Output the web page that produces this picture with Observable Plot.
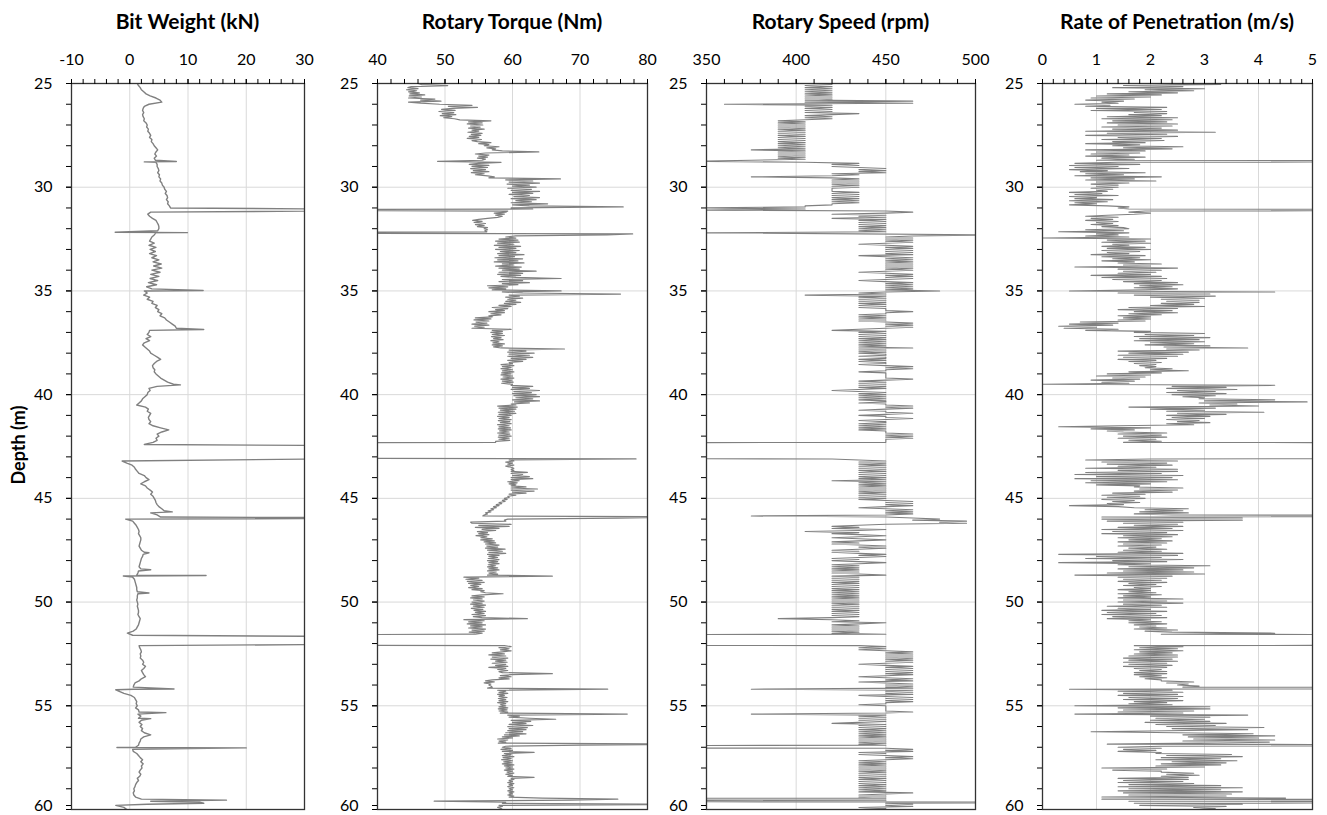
<!DOCTYPE html>
<html>
<head>
<meta charset="utf-8">
<script src="https://cdn.jsdelivr.net/npm/d3@7"></script>
<script src="https://cdn.jsdelivr.net/npm/@observablehq/plot@0.6"></script>
<style>
  body { margin: 0; background: #fff; }
  #chart { position: relative; width: 1327px; height: 815px; font-family: Lato, sans-serif; color: #000; }
  .title { position: absolute; top: 8px; font-weight: 700; font-size: 21px; white-space: nowrap; transform: translateX(-50%); }
  .panel { position: absolute; top: 40px; }
  #ylab { position: absolute; left: 18px; top: 445px; transform: translate(-50%, -50%) rotate(-90deg); font-weight: 700; font-size: 18px; white-space: nowrap; }
</style>
</head>
<body>
<div id="chart"><div id="ylab">Depth (m)</div></div>
<script>
// Drilling log from 25 m to 60 m. Bit weight is sampled every 0.1 m (351 samples);
// torque, rotary speed and penetration rate every 0.05 m (701 samples, one row per metre).
const DEPTH_TOP = 25;
const DEPTH_BOTTOM = 60;

// Bit weight, kN (values beyond 30 run off the right of the axis)
const bitWeight = [
  1.3,1.5,1.8,2.0,2.4,2.8,3.5,4.5,5.2,5.5,
  3.3,2.5,2.3,2.2,2.4,2.2,2.3,2.5,2.4,2.8,
  3.0,2.9,3.2,3.1,3.4,3.6,3.4,3.8,3.7,4.0,
  4.2,4.5,4.8,4.5,4.3,4.6,4.2,4.4,4.5,4.7,
  4.7,4.9,5.0,4.8,5.1,5.0,5.3,5.2,5.5,5.6,
  5.9,6.0,6.3,6.1,6.4,6.5,6.3,6.6,6.5,6.8,
  7.0,60,3.6,3.1,3.4,3.9,4.5,4.7,4.9,5.0,
  5.0,4.8,4.5,4.2,3.8,3.6,3.4,4.2,3.3,4.5,
  3.5,4.4,3.4,4.6,3.8,5.0,4.0,5.4,4.1,5.5,
  3.8,5.2,3.6,5.0,3.5,4.8,3.2,4.6,2.9,3.8,
  2.5,3.0,2.4,3.4,3.0,4.0,3.8,4.7,4.4,5.0,
  4.8,5.5,5.2,6.0,6.3,6.8,7.3,7.8,8.0,3.4,
  3.3,3.0,3.6,2.8,3.4,2.5,2.2,2.6,3.0,3.4,
  3.6,4.2,4.8,5.3,4.6,4.2,3.9,4.0,4.3,4.2,
  4.5,4.9,5.3,5.9,6.5,7.5,4.7,3.3,3.5,3.1,
  3.0,2.6,2.2,2.0,1.6,1.2,2.7,3.2,3.0,3.6,
  3.4,3.2,3.3,3.6,3.3,4.0,5.3,6.7,5.5,4.7,
  5.0,4.5,4.7,4.0,2.5,60,60,60,60,60,
  60,32,-1.3,-0.5,0.4,0.8,1.0,1.3,1.6,2.5,
  2.8,3.3,2.5,1.9,2.7,3.0,3.5,3.9,3.6,4.0,
  4.2,4.4,4.5,4.7,5.0,5.5,5.9,3.6,4.7,5.3,
  -0.7,0.5,0.8,1.1,1.3,1.5,1.6,1.5,1.7,1.9,
  1.9,1.8,1.7,1.6,1.8,2.0,2.5,2.3,2.2,2.0,
  1.9,1.8,1.7,1.6,1.9,1.5,1.4,1.2,0.5,0.8,
  0.9,1.0,1.1,1.2,1.2,1.3,1.4,1.3,1.3,1.2,
  1.3,1.4,1.3,1.4,1.5,1.5,1.4,1.6,1.8,1.7,
  1.6,1.5,1.3,1.1,0.6,-0.4,0.5,60,60,60,
  60,1.6,1.7,1.9,2.0,1.8,1.9,1.8,2.2,2.4,
  2.2,2.7,2.4,2.0,2.2,2.4,2.7,2.0,1.6,0.9,
  0.7,0.6,0.7,-1.8,-1.0,0.2,0.8,1.0,1.2,1.1,
  1.3,1.0,1.5,1.6,1.4,1.9,1.5,2.0,1.6,2.1,
  1.8,2.2,2.0,2.5,3.6,2.4,1.9,1.8,1.6,1.5,
  1.0,0.5,0.6,1.2,1.5,1.8,2.2,1.9,2.3,2.0,
  2.1,1.8,1.6,1.9,1.7,1.3,1.5,1.2,1.0,0.9,
  0.7,0.8,0.6,0.7,1.0,2.0,3.6,12.7,-2.4,-1.0,
  -0.5
];
// Short excursions between samples: [depth m, kN]
const bitWeightSpikes = [
  [28.76, 8.0], [28.78, 2.5], [32.17, -2.5], [32.19, 9.9], [34.98, 12.6],
  [36.86, 12.7], [39.53, 8.7], [45.65, 7.3], [45.95, 60], [47.62, 3.3],
  [48.44, 3.6], [48.72, 13.1], [48.74, -1.1], [49.56, 3.3], [54.19, 7.6],
  [54.23, -2.4], [55.33, 6.2], [55.62, 3.6], [57.01, -2.2], [57.03, 20.0],
  [59.55, 16.6], [59.65, 12.0], [59.75, 3.0]
];

// Rotary torque, Nm (0 / 90 mark drop-outs beyond the axis)
const rotaryTorque = [
  46.0,46.5,50.4,45.0,44.5,46.0,44.3,45.8,44.6,46.2,44.8,47.0,44.7,46.5,44.6,48.5,46.4,49.4,44.6,46.4,
  49.2,54.0,50.5,54.8,51.1,49.5,51.5,49.1,51.3,49.6,51.6,49.3,51.0,49.8,51.4,52.2,56.8,53.5,55.5,53.3,
  55.6,53.8,55.2,53.5,55.8,54.0,55.0,53.4,55.5,53.9,55.3,53.6,55.0,53.3,55.4,54.0,54.8,56.8,55.0,56.5,
  55.8,58.0,56.2,57.5,57.0,58.5,63.9,56.0,54.5,56.5,55.0,56.3,54.8,56.0,55.5,48.9,58.3,55.0,53.6,56.5,
  54.0,56.3,53.8,56.0,54.2,56.5,53.9,55.8,54.5,56.3,57.3,56.5,67.1,59.0,63.0,59.5,64.0,59.2,62.5,60.0,
  63.5,59.3,62.8,59.8,64.0,60.0,63.0,59.5,62.5,60.2,64.0,59.8,63.5,60.5,62.8,59.8,65.2,60.0,62.5,76.4,
  59.8,63.0,0,59.3,59.0,57.3,58.8,57.5,58.5,57.8,56.3,55.0,54.1,55.5,54.3,56.0,54.5,55.8,54.8,56.3,
  55.8,56.3,55.9,56.2,0,77.8,74.0,60.5,59.0,60.5,58.0,60.8,57.5,61.0,57.8,60.2,57.3,61.2,58.0,60.5,
  57.5,61.0,58.2,60.5,57.8,61.7,58.0,60.3,57.4,61.5,57.8,60.8,57.3,61.7,58.5,60.2,57.5,61.3,58.0,61.0,
  58.5,63.5,58.0,61.5,57.8,61.2,58.3,60.5,67.2,58.5,61.5,58.0,62.5,58.5,60.8,56.3,59.3,56.5,59.0,57.0,
  67.2,58.5,61.5,76.0,59.5,61.0,59.0,61.5,59.3,60.5,59.0,61.2,58.8,60.5,58.0,59.8,57.0,59.3,57.5,58.8,
  56.5,58.8,56.8,58.3,56.5,57.0,54.5,56.8,54.3,56.5,54.6,56.2,54.0,56.5,54.4,55.8,54.0,59.8,57.0,58.5,
  56.8,58.5,57.0,58.8,56.9,58.3,57.2,58.6,56.8,58.0,57.1,58.8,57.0,58.5,57.2,58.3,67.7,59.5,62.0,59.3,
  63.2,59.5,62.5,59.3,63.0,59.8,62.0,59.3,61.5,59.5,60.0,58.3,60.2,58.5,59.8,58.3,60.0,58.5,60.2,58.4,
  59.8,58.3,60.0,58.6,60.2,58.3,59.9,58.5,60.1,58.4,60.0,59.8,63.0,60.0,62.5,59.8,64.0,60.2,62.8,60.0,
  63.5,60.2,64.0,60.5,63.0,60.0,64.0,60.3,62.5,59.8,60.5,57.8,60.7,58.0,60.5,58.2,60.3,57.9,60.5,58.0,
  59.8,57.8,59.5,58.0,59.8,57.9,59.6,58.2,59.8,57.8,59.5,58.0,59.7,57.9,59.8,58.1,59.5,57.8,59.6,58.0,
  59.8,57.9,59.5,58.0,59.6,57.5,57.5,0,0,0,0,0,0,0,0,0,0,0,0,0,
  0,0,78.3,59.5,60.2,59.0,60.0,59.3,60.2,59.0,59.8,60.2,59.8,60.2,59.8,62.2,59.8,61.5,60.0,62.5,
  59.8,63.0,59.8,61.0,59.3,60.7,59.5,60.5,59.8,62.0,59.8,63.7,59.8,63.2,60.0,62.0,59.5,60.5,59.3,59.5,
  58.8,59.2,58.5,58.9,58.0,58.4,57.6,58.0,57.2,57.6,56.8,57.2,56.4,56.8,56.0,56.3,55.8,55.6,90,75.6,
  59.3,58.8,59.0,53.8,54.0,59.8,55.0,59.5,54.5,58.0,55.5,57.5,54.8,56.3,55.0,56.5,54.6,56.2,55.3,57.0,
  55.3,57.3,55.8,57.5,56.0,58.0,56.2,57.8,56.0,58.9,56.3,58.5,56.5,59.0,56.3,58.0,56.5,57.8,56.4,58.0,
  56.3,57.8,56.5,58.0,56.4,57.5,56.3,57.8,56.5,58.0,56.3,57.6,56.5,57.8,56.3,65.9,52.8,55.0,53.1,55.5,
  53.3,55.8,53.5,55.3,53.8,55.0,53.5,55.5,54.0,55.8,55.3,56.0,58.6,55.5,54.0,55.8,53.8,55.5,54.2,55.8,
  54.0,55.5,53.8,56.0,54.2,55.8,53.9,55.6,54.3,56.0,54.5,55.8,54.0,56.0,54.2,55.5,62.2,52.8,55.8,53.5,
  55.5,53.3,56.0,53.8,55.5,53.5,56.0,54.0,55.8,53.6,55.5,54.5,0,0,0,0,0,0,0,0,
  0,0,58.8,59.8,58.0,59.5,58.2,59.8,58.5,57.0,58.8,56.5,59.0,57.0,59.3,56.8,59.0,57.5,59.2,57.0,
  59.0,57.5,59.3,56.5,59.0,57.8,59.3,58.0,58.5,65.9,59.8,58.2,59.8,58.0,59.5,57.0,56.0,57.3,55.8,56.8,
  56.5,56.8,57.0,56.3,74.1,57.8,59.0,58.0,59.3,57.8,58.8,58.0,59.2,57.9,59.0,58.0,59.3,57.8,59.0,58.2,
  59.0,58.0,59.3,57.9,59.2,58.0,59.3,58.2,77.0,59.3,61.0,59.5,62.5,66.4,59.8,62.7,60.0,62.0,59.5,63.0,
  59.3,62.2,59.5,62.0,59.3,61.5,59.0,62.0,58.8,61.0,58.5,60.0,57.8,59.3,58.0,59.0,57.9,90,70.1,59.0,
  58.5,59.8,58.3,60.0,58.5,63.2,58.8,59.8,58.5,60.2,58.6,59.8,58.4,60.0,58.7,59.9,58.5,60.2,58.8,60.0,
  59.0,60.2,58.8,60.0,59.2,60.2,59.0,60.0,59.3,63.2,59.8,60.2,59.5,60.0,59.3,60.2,59.5,60.0,59.3,60.2,
  59.5,60.0,59.3,60.2,59.5,60.0,59.3,60.2,59.5,64.4,75.6,68.6,48.4,59.0,58.5,90,58.0,58.5,57.8,58.3,
  58.5
];
const rotaryTorqueSpikes = [];

// Rotary speed, rpm (0 / 510 / 600 mark drop-outs beyond the axis)
const rotarySpeed = [
  405,420,405,420,405,420,405,420,405,420,405,420,405,420,405,420,405,465,405,465,
  360,420,405,420,405,420,405,420,405,435,420,405,420,405,420,405,390,405,390,405,
  390,405,390,405,390,405,390,405,390,405,390,405,390,405,390,405,390,405,390,405,
  390,405,390,405,375,405,390,405,390,405,390,405,390,405,375,345,405,435,420,435,
  420,435,450,435,450,435,450,420,435,420,375,420,435,420,435,420,435,420,435,420,
  435,420,420,420,420,435,420,435,420,435,420,435,420,435,420,435,420,420,405,405,
  345,405,345,450,465,450,420,450,435,450,420,450,435,450,435,450,435,450,435,450,
  435,450,435,450,345,435,510,465,450,465,450,465,450,465,450,435,450,465,450,465,
  450,465,450,465,450,465,435,450,465,450,465,450,465,450,465,450,465,450,465,450,
  465,450,435,450,465,450,465,450,465,450,435,450,465,450,465,450,465,450,465,450,
  480,450,435,450,405,450,435,450,435,450,435,450,435,450,435,450,435,450,450,450,
  465,450,450,435,450,435,450,435,450,435,450,465,450,465,450,465,450,435,420,450,
  435,450,435,450,435,450,435,450,435,450,435,450,435,450,435,465,435,450,435,450,
  435,450,450,435,450,450,435,450,435,450,450,435,450,465,450,465,450,450,435,450,
  450,450,450,450,450,465,450,435,450,435,450,435,450,435,450,435,420,435,450,435,
  450,435,450,435,450,435,450,450,435,450,450,465,450,465,450,435,450,450,465,450,
  435,450,450,465,450,435,450,450,435,450,435,450,435,450,435,450,450,450,465,450,
  465,450,465,450,450,450,450,0,0,0,0,0,0,0,0,0,0,0,0,0,
  0,0,420,435,450,435,450,435,450,435,450,435,450,435,450,435,450,435,450,435,
  450,435,450,420,450,435,450,435,450,435,450,435,450,435,450,435,450,435,450,435,
  450,435,450,465,450,465,450,465,450,435,450,465,450,465,450,465,450,375,450,465,
  480,465,495,480,495,450,435,420,435,420,450,435,405,435,420,435,450,435,420,435,
  450,435,420,435,420,435,450,435,450,435,420,435,420,435,450,435,450,435,420,435,
  420,435,450,435,420,435,420,435,420,435,420,435,420,435,450,420,435,420,435,420,
  435,420,435,420,435,420,435,420,435,420,435,420,435,420,435,420,435,420,435,420,
  435,420,435,420,435,420,435,420,435,420,435,420,435,420,435,420,390,420,435,420,
  450,435,420,435,420,435,420,435,420,435,420,450,0,0,0,0,0,0,0,0,
  0,0,435,450,435,450,435,450,465,450,465,450,465,450,465,450,465,450,465,450,
  435,450,465,450,465,450,465,450,465,450,465,450,435,450,465,450,465,435,450,465,
  450,465,450,465,375,465,450,465,450,465,435,450,465,450,465,450,465,450,450,435,
  450,450,450,450,450,450,465,450,375,450,435,450,435,450,435,450,435,420,450,435,
  450,435,450,435,450,435,450,435,450,435,450,435,450,435,450,435,450,435,450,0,
  0,450,465,450,465,435,450,435,450,465,450,465,450,435,450,435,450,435,450,435,
  450,435,450,435,450,435,450,435,450,435,450,435,450,435,450,435,450,435,450,435,
  450,435,450,435,465,450,435,450,435,450,0,450,0,600,450,465,450,465,435,450,
  435
];
const rotarySpeedSpikes = [];

// Rate of penetration, m/s (15 marks drop-outs off the right of the axis)
const penetrationRate = [
  2.0,3.3,1.5,2.6,1.3,3.0,1.9,2.8,1.6,2.5,1.2,2.2,1.0,2.0,0.9,1.7,0.8,1.5,1.1,1.4,
  0.6,1.25,0.8,2.3,1.0,2.2,0.9,2.3,1.7,2.3,1.6,2.2,1.2,2.5,1.1,2.4,1.3,2.3,1.2,2.5,
  1.4,2.4,1.1,2.2,1.3,2.5,0.8,3.2,1.2,2.3,0.8,2.5,1.4,2.2,1.1,2.25,1.3,1.9,0.8,1.8,
  1.3,2.6,1.5,2.4,0.8,1.9,1.0,1.8,0.9,1.6,0.8,1.9,1.1,1.7,1.0,15,1.4,0.6,1.8,0.5,
  1.4,0.6,1.6,0.5,1.2,0.7,1.9,0.8,1.5,0.6,2.2,0.9,1.7,0.8,2.1,1.0,1.6,0.9,1.4,1.0,
  1.4,0.9,1.3,1.0,1.2,0.5,1.1,0.6,1.4,0.5,1.0,0.6,1.3,0.5,1.2,0.6,1.0,0.5,1.2,1.6,
  1.4,1.6,15,1.9,1.6,2.0,1.7,1.2,0.8,1.4,0.9,1.3,0.8,1.4,1.0,1.3,0.9,1.4,1.1,1.5,
  1.6,0.8,1.5,0.3,1.6,1.0,1.4,0.8,1.6,0.0,2.0,1.2,1.9,1.1,2.0,1.3,1.6,1.1,1.9,1.2,
  2.0,1.1,1.8,1.2,1.6,0.9,1.9,1.1,1.8,1.3,2.0,1.1,1.7,1.4,2.2,1.5,2.0,0.6,2.5,1.4,
  2.2,1.5,2.1,1.4,2.0,0.9,2.2,1.1,2.3,1.3,2.2,1.5,2.5,1.7,2.6,1.8,2.4,1.7,2.5,1.9,
  0.5,4.3,1.4,3.1,1.7,3.2,2.0,3.0,2.2,2.9,2.3,2.9,2.2,2.8,2.0,3.0,1.6,2.5,1.4,2.4,
  1.7,2.5,1.6,2.2,1.4,2.0,1.5,2.0,1.4,1.9,0.7,1.4,0.5,1.3,0.3,1.0,0.4,1.4,0.8,2.0,
  1.7,3.0,1.9,2.8,1.7,3.1,1.8,2.9,1.7,3.0,2.0,2.8,1.9,3.1,2.25,3.8,2.3,2.9,1.4,2.7,
  1.6,2.6,1.4,2.5,1.5,2.3,1.4,2.1,1.6,2.2,1.7,2.1,1.8,2.1,1.9,2.4,2.0,2.7,1.6,2.2,
  1.2,2.0,1.0,1.9,1.3,1.8,0.9,1.7,1.1,1.6,0.0,4.3,2.4,3.4,2.3,3.6,2.5,3.2,2.3,3.4,
  2.4,3.2,2.6,3.0,2.9,4.3,3.0,4.9,2.9,3.6,3.1,4.0,1.6,3.2,2.0,3.0,2.3,4.1,2.5,3.4,
  2.3,3.1,2.4,3.0,2.3,2.9,2.5,3.1,2.3,2.8,1.4,0.3,2.0,0.9,1.7,1.2,1.5,2.3,1.4,2.2,
  1.5,2.3,1.4,2.1,1.6,2.2,1.5,15,15,15,15,15,15,15,15,15,15,15,15,15,
  15,15,2.0,0.8,2.5,1.1,2.3,1.2,2.4,1.4,2.1,0.8,2.5,1.4,2.5,0.8,2.2,0.6,2.6,1.0,
  2.4,0.6,2.5,0.9,2.3,0.8,2.0,1.0,1.8,1.7,2.6,1.8,2.5,1.7,2.4,1.3,1.9,1.1,1.8,1.2,
  1.9,1.1,1.7,1.3,1.8,1.2,1.5,0.5,1.4,1.7,2.7,1.9,2.6,1.8,2.7,1.7,2.4,15,1.1,3.7,
  1.1,3.7,1.2,2.6,1.5,2.5,1.7,2.6,1.4,2.4,1.1,2.6,1.3,2.3,1.1,2.5,1.5,2.4,1.4,2.2,
  1.6,2.4,1.4,2.3,1.5,2.2,1.4,2.1,1.6,2.3,1.5,2.2,1.4,2.6,0.3,2.5,1.0,2.2,0.8,2.6,
  1.3,2.3,0.3,2.0,1.4,3.1,1.6,2.8,1.4,2.6,1.5,2.8,1.2,3.0,0.6,2.4,1.4,2.3,1.5,2.2,
  1.4,2.3,1.6,2.1,1.5,2.2,1.7,2.0,1.4,2.0,1.6,2.1,1.4,2.2,1.5,2.0,1.4,2.6,1.5,2.3,
  1.4,2.6,1.5,2.2,1.2,2.3,1.4,2.0,1.1,2.3,1.2,2.1,1.1,2.2,1.3,2.3,1.2,2.0,1.6,2.2,
  1.6,2.3,1.7,2.1,1.8,2.3,1.7,2.5,1.9,2.4,4.3,2.2,15,15,15,15,15,15,15,15,
  15,15,1.7,2.6,1.8,2.5,1.7,2.6,1.8,2.4,1.7,2.5,1.6,2.5,1.5,2.4,1.6,2.5,1.5,2.3,
  1.6,2.4,1.5,2.3,1.7,2.2,1.8,2.3,1.7,2.3,1.7,2.2,1.8,2.3,1.9,2.2,2.2,2.8,2.3,2.7,
  2.5,2.9,2.6,15,0.5,2.4,1.4,2.6,1.5,2.5,1.4,2.6,1.6,2.5,1.5,2.6,1.7,2.3,1.6,2.4,
  0.6,3.1,1.4,3.1,1.5,2.8,1.4,2.6,0.6,3.8,2.0,3.1,2.1,3.0,2.0,3.1,1.9,3.4,2.1,3.2,
  2.3,4.1,2.4,3.8,2.3,0.9,2.5,3.9,2.6,4.3,2.7,4.0,2.8,4.3,2.6,4.2,2.9,1.2,15,2.2,
  1.4,2.2,1.5,2.1,1.4,2.2,2.1,3.5,2.3,3.7,2.2,3.3,2.1,3.6,2.4,3.4,2.2,3.3,2.1,3.0,
  1.1,2.3,1.3,2.2,2.2,2.8,2.3,2.9,2.2,2.7,1.4,2.7,1.5,2.6,1.4,2.8,1.6,3.3,1.4,3.7,
  1.6,3.3,1.4,3.7,1.5,3.5,1.6,3.4,1.1,4.5,1.1,15,1.6,15,1.7,3.7,1.8,3.4,2.8,3.2,
  2.9
];
const penetrationRateSpikes = [];

// Axis ticks
const depthLabels = [25, 30, 35, 40, 45, 50, 55, 60];
const depthGridLines = [30, 35, 40, 45, 50, 55];
const bitWeightTicks = [-10, 0, 10, 20, 30];
const torqueTicks = [40, 50, 60, 70, 80];
const speedTicks = [350, 400, 450, 500];
const penetrationTicks = [0, 1, 2, 3, 4, 5];

const panels = [
  {title: "Bit Weight (kN)", left: 71, right: 304, ticks: bitWeightTicks, minorStep: 2,
   step: 0.1, values: bitWeight, spikes: bitWeightSpikes, strokeWidth: 1.4},
  {title: "Rotary Torque (Nm)", left: 377, right: 647, ticks: torqueTicks, minorStep: 2,
   step: 0.05, values: rotaryTorque, spikes: rotaryTorqueSpikes, strokeWidth: 1.2},
  {title: "Rotary Speed (rpm)", left: 706, right: 975, ticks: speedTicks, minorStep: 10,
   step: 0.05, values: rotarySpeed, spikes: rotarySpeedSpikes, strokeWidth: 1.1},
  {title: "Rate of Penetration (m/s)", left: 1042, right: 1312, ticks: penetrationTicks, minorStep: 0.2,
   step: 0.05, values: penetrationRate, spikes: penetrationRateSpikes, strokeWidth: 1.1}
];

function toSeries(values, spikes, step) {
  const n = Math.round((DEPTH_BOTTOM - DEPTH_TOP) / step) + 1;
  if (values.length !== n) throw new Error("expected " + n + " samples, got " + values.length);
  const pts = values.map((v, i) => ({d: +(DEPTH_TOP + i * step).toFixed(3), v}));
  for (const [d, v] of spikes) pts.push({d, v});
  return pts.sort((a, b) => a.d - b.d);
}

const chart = document.getElementById("chart");
const svgTop = 40, plotTop = 83, plotBottom = 809, pageHeight = 815;
const marginLeft = 48, marginRight = 8;
const lastDepth = depthLabels[depthLabels.length - 1];

for (const p of panels) {
  const lo = p.ticks[0], hi = p.ticks[p.ticks.length - 1];
  const minor = d3.range(0, Math.round((hi - lo) / p.minorStep) + 1).map(k => +(lo + k * p.minorStep).toFixed(3));
  const plot = Plot.plot({
    width: (p.right - p.left) + marginLeft + marginRight,
    height: pageHeight - svgTop,
    marginTop: plotTop - svgTop,
    marginBottom: pageHeight - plotBottom,
    marginLeft, marginRight,
    style: {fontFamily: "Lato, sans-serif", fontSize: "16px", color: "#000", background: "transparent", overflow: "visible"},
    x: {domain: [lo, hi], axis: null},
    y: {domain: [DEPTH_TOP, DEPTH_BOTTOM], reverse: true, axis: null},
    marks: [
      Plot.gridX(p.ticks, {stroke: "#d9d9d9", strokeOpacity: 1}),
      Plot.gridY(depthGridLines, {stroke: "#d9d9d9", strokeOpacity: 1}),
      Plot.line(toSeries(p.values, p.spikes, p.step), {x: "v", y: "d", stroke: "#808080", strokeWidth: p.strokeWidth, clip: true}),
      Plot.frame({stroke: "#333", strokeWidth: 1.3}),
      Plot.axisX({anchor: "top", ticks: minor, tickSize: 5, tickFormat: () => "", label: null}),
      Plot.axisX({anchor: "top", ticks: p.ticks, tickSize: 5, tickPadding: 14, tickFormat: d => String(d), label: null}),
      Plot.axisY({anchor: "left", ticks: d3.range(DEPTH_TOP, DEPTH_BOTTOM + 1), tickSize: 5, tickFormat: () => "", label: null}),
      Plot.axisY({anchor: "left", ticks: depthLabels.slice(0, -1), tickSize: 5, tickPadding: 14, tickFormat: d => String(d), label: null}),
      // the bottom label sits a touch higher so it stays inside the page
      Plot.axisY({anchor: "left", ticks: [lastDepth], tickSize: 5, tickPadding: 14, dy: -4, tickFormat: d => String(d), label: null})
    ]
  });
  plot.classList.add("panel");
  plot.style.left = (p.left - marginLeft) + "px";
  chart.appendChild(plot);

  const t = document.createElement("div");
  t.className = "title";
  t.textContent = p.title;
  t.style.left = ((p.left + p.right) / 2) + "px";
  chart.appendChild(t);
}
</script>
</body>
</html>
